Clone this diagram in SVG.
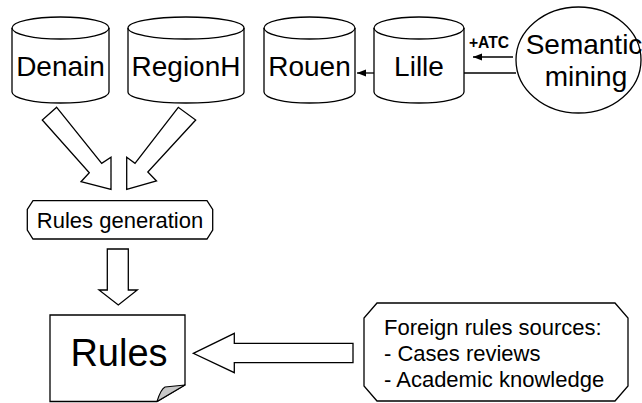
<svg xmlns="http://www.w3.org/2000/svg" width="642" height="403" viewBox="0 0 642 403" font-family="'Liberation Sans', Arimo, Arial, Helvetica, sans-serif">
<style>
.s{fill:#fff;stroke:#000;stroke-width:1.3;stroke-linejoin:miter}
.l{fill:none;stroke:#000;stroke-width:1.3}
text{font-family:'Liberation Sans',Arimo,Arial,Helvetica,sans-serif;fill:#000}
.big{font-size:28px;text-anchor:middle}
.mid{font-size:22px}
</style>
<defs>
<marker id="ah" viewBox="0 0 9 8" refX="9" refY="4" markerWidth="9" markerHeight="8" markerUnits="userSpaceOnUse" orient="auto">
<path d="M0 0.5 L9 4 L0 7.5 Z" fill="#000"/>
</marker>
</defs>
<rect width="642" height="403" fill="#fff"/>

<g id="denain">
<path class="s" d="M12 28 A48.5 11 0 0 1 109 28 L109 92 A48.5 11 0 0 1 12 92 Z"/>
<path class="l" d="M12 28 A48.5 11 0 0 0 109 28"/>
<text class="big" x="60.5" y="76">Denain</text>
</g>
<g id="regionh">
<path class="s" d="M128 28 A58 11 0 0 1 244 28 L244 92 A58 11 0 0 1 128 92 Z"/>
<path class="l" d="M128 28 A58 11 0 0 0 244 28"/>
<text class="big" x="186" y="76">RegionH</text>
</g>
<g id="rouen">
<path class="s" d="M264 28 A45.5 11 0 0 1 355 28 L355 92 A45.5 11 0 0 1 264 92 Z"/>
<path class="l" d="M264 28 A45.5 11 0 0 0 355 28"/>
<text class="big" x="309.5" y="76">Rouen</text>
</g>
<g id="lille">
<path class="s" d="M374 28 A45 11 0 0 1 464 28 L464 92 A45 11 0 0 1 374 92 Z"/>
<path class="l" d="M374 28 A45 11 0 0 0 464 28"/>
<text class="big" x="419" y="76">Lille</text>
</g>
<g id="semantic">
<ellipse class="s" cx="578.5" cy="60" rx="62.5" ry="53"/>
<text class="big" x="584" y="54">Semantic</text>
<text class="big" x="586" y="86">mining</text>
</g>
<g id="rulesgen">
<polygon class="s" points="33,200.7 207,200.7 212.7,209.5 212.7,230 207,239 33,239 27.3,230 27.3,209.5"/>
<text class="mid" x="120" y="228" text-anchor="middle">Rules generation</text>
</g>
<g id="rules">
<path class="s" d="M50 315 L185 315 L185 385 L157 401.5 L50 401.5 Z"/>
<path d="M185 385 L157 401.5 C159 395 161 389 165 387 Z" fill="#c8c8c8" stroke="#000" stroke-width="1.1" stroke-linejoin="round"/>
<text x="119" y="366" font-size="38" text-anchor="middle">Rules</text>
</g>
<g id="foreign">
<polygon class="s" points="377,303 615,303 628,318 628,386 615,401 377,401 364,386 364,318"/>
<text class="mid" x="384" y="335">Foreign rules sources:</text>
<text class="mid" x="384" y="361">- Cases reviews</text>
<text class="mid" x="384" y="387">- Academic knowledge</text>
</g>

<g id="connectors">
<polygon class="s" points="56.7,107.3 101.7,163.3 111,157.3 111,189.3 81,181.7 89.3,172.7 42.3,120"/>
<polygon class="s" points="178.3,107.3 135,163.3 126.7,157.3 126.7,189.3 156.5,181 147.8,172 195.7,120"/>
<polygon class="s" points="107.3,249 128.3,249 128.3,290 137.3,290 118.3,305 99,290 107.3,290"/>
<polygon class="s" points="193.3,353.3 234.3,333.3 234.3,343.3 353,343.3 353,362.7 234.3,362.7 234.3,372.7"/>
<line class="l" x1="374" y1="73" x2="357" y2="73" marker-end="url(#ah)"/>
<line class="l" x1="516" y1="73" x2="464" y2="73"/>
<line class="l" x1="513" y1="57" x2="473" y2="57" marker-end="url(#ah)"/>
<text x="469" y="48" font-size="16" font-weight="bold" textLength="40" lengthAdjust="spacingAndGlyphs">+ATC</text>
</g>
</svg>
